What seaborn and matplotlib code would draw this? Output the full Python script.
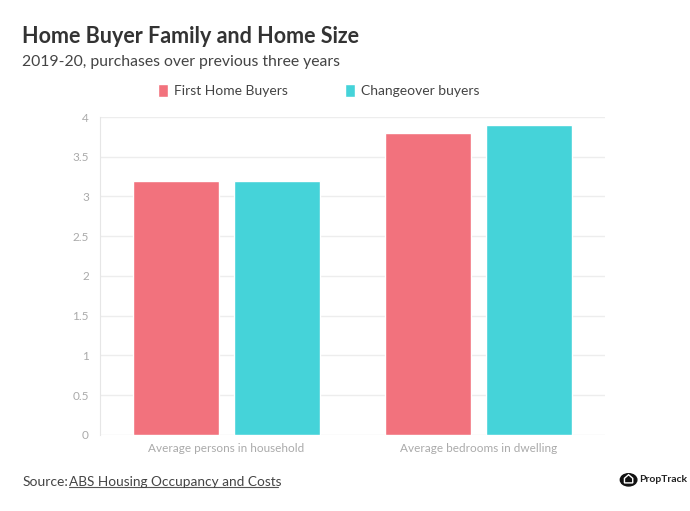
import numpy as np
import pandas as pd
import matplotlib.pyplot as plt
import seaborn as sns
from matplotlib.patches import Circle, Polygon

# chart data
categories = ["Average persons in household", "Average bedrooms in dwelling"]
first_home = [3.2, 3.8]
changeover = [3.2, 3.9]
series_names = ["First Home Buyers", "Changeover buyers"]
colors = ["#F2727D", "#45D3D9"]

df = pd.DataFrame({
    "category": categories * 2,
    "buyer": [series_names[0]] * 2 + [series_names[1]] * 2,
    "value": first_home + changeover,
})

sns.set_style("white")
plt.rcParams["font.family"] = ["Lato", "DejaVu Sans"]

fig = plt.figure(figsize=(6.9, 5.11), dpi=100)
ax = fig.add_axes([0.145, 0.149, 0.732, 0.622])

sns.barplot(data=df, x="category", y="value", hue="buyer", palette=colors,
            width=0.8, gap=0.15, saturation=1, ax=ax)

ax.set_ylim(0, 4)
ax.set_yticks(np.arange(0, 4.01, 0.5))
ax.set_yticklabels(["0", "0.5", "1", "1.5", "2", "2.5", "3", "3.5", "4"])
ax.yaxis.grid(True, color="#EDEDED", linewidth=1)
ax.set_axisbelow(True)
ax.set_xlabel("")
ax.set_ylabel("")
for s in ["top", "right", "bottom"]:
    ax.spines[s].set_visible(False)
ax.spines["left"].set_color("#E6E6E6")
ax.tick_params(axis="both", length=0, colors="#AAAAAA", labelsize=8.5)
ax.tick_params(axis="y", pad=8)
ax.tick_params(axis="x", pad=6)

sns.move_legend(ax, "center", bbox_to_anchor=(0.462, 0.822), bbox_transform=fig.transFigure,
                ncol=2, frameon=False, title=None, fontsize=10,
                handlelength=0.7, handleheight=1.0, handletextpad=0.4, columnspacing=4.15)
for t in ax.get_legend().get_texts():
    t.set_color("#444444")

fig.text(0.032, 0.928, "Home Buyer Family and Home Size", fontsize=15.5, fontweight="bold",
         color="#333333", va="center")
fig.text(0.032, 0.878, "2019-20, purchases over previous three years", fontsize=11.3,
         color="#444444", va="center")

fig.text(0.032, 0.057, "Source:", fontsize=10, color="#444444", va="center")
fig.text(0.1, 0.057, "ABS Housing Occupancy and Costs", fontsize=9.8, color="#444444",
         va="center")
fig.add_artist(plt.Line2D([0.1, 0.403], [0.047, 0.047], transform=fig.transFigure,
                          color="#555555", linewidth=0.8))

# PropTrack logo
fig.add_artist(Circle((0.911, 0.061), 0.012, transform=fig.transFigure, color="#111111"))
fig.add_artist(Polygon([[0.905, 0.055], [0.905, 0.064], [0.911, 0.071], [0.917, 0.064],
                        [0.917, 0.055]], closed=True, transform=fig.transFigure,
                       facecolor="none", edgecolor="white", linewidth=1))
fig.text(0.926, 0.061, "PropTrack", fontsize=7.5, fontweight="bold", color="#222222",
         va="center")

fig.savefig("out.png", dpi=100)
